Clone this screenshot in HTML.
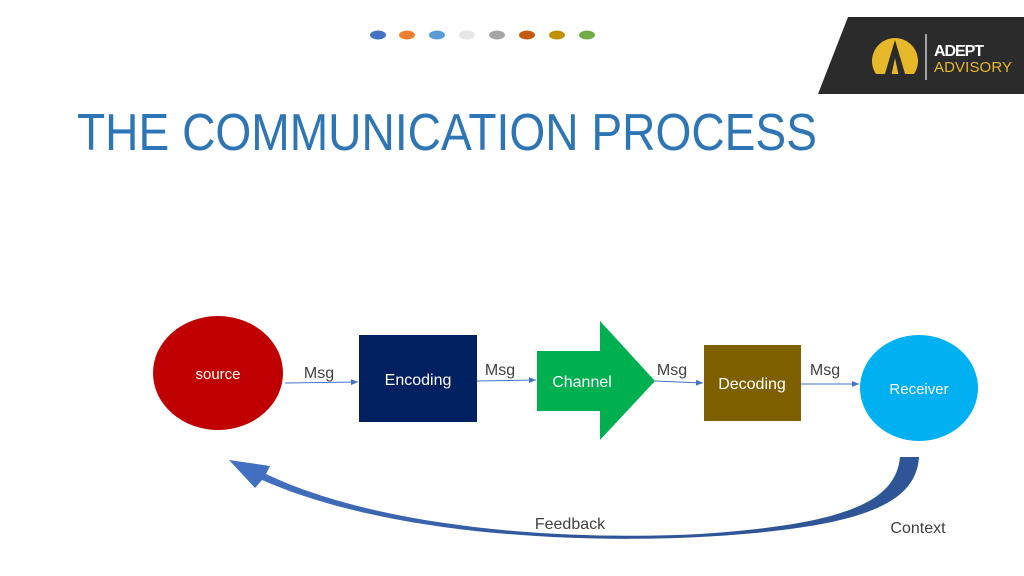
<!DOCTYPE html>
<html><head><meta charset="utf-8"><style>
html,body{margin:0;padding:0;background:#fff;}
svg{display:block;font-family:"Liberation Sans",sans-serif;}
</style></head><body>
<svg width="1024" height="576" viewBox="0 0 1024 576" xmlns="http://www.w3.org/2000/svg">
<defs>
<marker id="ah" markerWidth="8" markerHeight="8" refX="7" refY="3" orient="auto" markerUnits="userSpaceOnUse"><path d="M0,0 L7,3 L0,6 Z" fill="#4472c4"/></marker>
<linearGradient id="fb" x1="0" x2="1" y1="0" y2="0"><stop offset="0" stop-color="#4472c4"/><stop offset="0.5" stop-color="#2f5597"/><stop offset="1" stop-color="#2f5597"/></linearGradient>
</defs>
<g>
<ellipse cx="378" cy="35" rx="8" ry="4.5" fill="#4472c4"/>
<ellipse cx="407" cy="35" rx="8" ry="4.5" fill="#ed7d31"/>
<ellipse cx="437" cy="35" rx="8" ry="4.5" fill="#5b9bd5"/>
<ellipse cx="467" cy="35" rx="8" ry="4.5" fill="#e7e6e6"/>
<ellipse cx="497" cy="35" rx="8" ry="4.5" fill="#a5a5a5"/>
<ellipse cx="527" cy="35" rx="8" ry="4.5" fill="#c55a11"/>
<ellipse cx="557" cy="35" rx="8" ry="4.5" fill="#bf9000"/>
<ellipse cx="587" cy="35" rx="8" ry="4.5" fill="#70ad47"/>
</g>
<polygon points="848,17 1024,17 1024,94 818,94" fill="#2b2b2b"/>
<path d="M876,74 A23,23 0 1 1 914,74 Z" fill="#e6b82a"/>
<path d="M884,77 L895,40 L906,77 L899,77 L895,58 L891,77 Z" fill="#2b2b2b"/>
<line x1="926" y1="34" x2="926" y2="80" stroke="#ccc" stroke-width="1.5"/>
<text x="934" y="56" font-size="16" font-weight="bold" fill="#fff" textLength="50">ADEPT</text>
<text x="934" y="72" font-size="15" fill="#e6b82a" textLength="78">ADVISORY</text>
<text x="77" y="150" font-size="52" fill="#2e75b6" textLength="740" lengthAdjust="spacingAndGlyphs">THE COMMUNICATION PROCESS</text>
<ellipse cx="218" cy="373" rx="65" ry="57" fill="#c00000"/>
<text x="218" y="379" font-size="15" fill="#fff" text-anchor="middle">source</text>
<rect x="359" y="335" width="118" height="87" fill="#002060"/>
<text x="418" y="385" font-size="16" fill="#fff" text-anchor="middle">Encoding</text>
<polygon points="537,351 600,351 600,321 655,381 600,440 600,411 537,411" fill="#00b050"/>
<text x="582" y="387" font-size="16" fill="#fff" text-anchor="middle">Channel</text>
<rect x="704" y="345" width="97" height="76" fill="#7f6000"/>
<text x="752" y="389" font-size="16" fill="#fff" text-anchor="middle">Decoding</text>
<ellipse cx="919" cy="388" rx="59" ry="53" fill="#00b0f0"/>
<text x="919" y="394" font-size="15" fill="#fff" text-anchor="middle">Receiver</text>
<g stroke="#4472c4" stroke-width="1" marker-end="url(#ah)">
<line x1="285" y1="383" x2="358" y2="382"/>
<line x1="477" y1="381" x2="536" y2="380"/>
<line x1="655" y1="381" x2="703" y2="383"/>
<line x1="801" y1="384" x2="859" y2="384"/>
</g>
<g font-size="16" fill="#404040" text-anchor="middle">
<text x="319" y="378">Msg</text>
<text x="500" y="375">Msg</text>
<text x="672" y="375">Msg</text>
<text x="825" y="375">Msg</text>
</g>
<path d="M919,457 C916,505 860,528 700,537 C560,544 380,532 262,480 L255,488 L229,460 L270,466 L266,474 C380,528 560,541 700,534 C850,524 896,500 900,457 Z" fill="url(#fb)"/>
<text x="570" y="529" font-size="16" fill="#404040" text-anchor="middle">Feedback</text>
<text x="918" y="533" font-size="16" fill="#404040" text-anchor="middle">Context</text>
</svg>
</body></html>
